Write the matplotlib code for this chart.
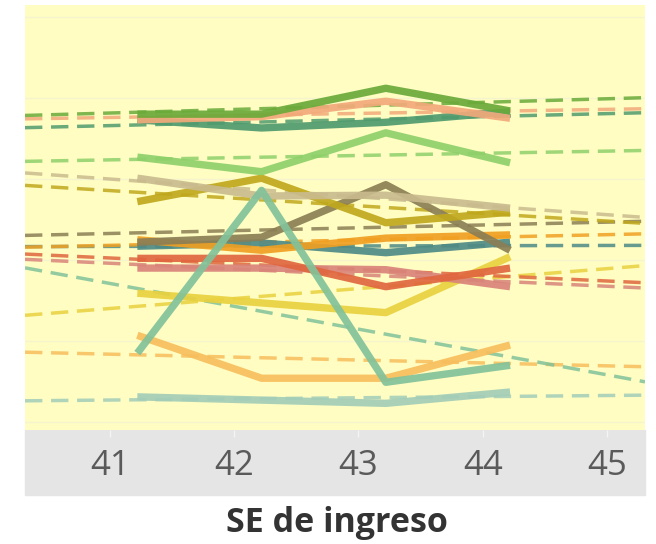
import numpy as np
import matplotlib.pyplot as plt
from matplotlib.patches import Rectangle

# weeks (data points sit a bit to the right of the week tick)
weeks = [41.22, 42.22, 43.22, 44.22]
tick_weeks = [41, 42, 43, 44, 45]
tick_labels = ["41", "42", "43", "44", "45"]

# series values
s_green = [38.0, 38.0, 41.2, 38.4]
s_salmon = [37.3, 37.7, 39.6, 37.5]
s_teal = [37.3, 36.3, 37.0, 38.3]
s_lightgreen = [32.7, 30.9, 35.7, 32.0]
s_tan = [30.1, 27.9, 28.0, 26.4]
s_olive = [27.2, 30.1, 24.6, 25.9]
s_brown = [22.2, 22.8, 29.3, 21.2]
s_orange = [22.5, 21.2, 22.7, 23.1]
s_tealblue = [21.7, 22.1, 20.9, 22.2]
s_red = [20.2, 20.2, 16.7, 19.0]
s_pink = [19.0, 19.0, 18.8, 16.7]
s_yellow = [15.9, 14.7, 13.5, 20.4]
s_lightorange = [10.7, 5.4, 5.4, 9.5]
s_spike = [8.5, 28.6, 4.9, 7.0]
s_paleteal = [3.1, 2.7, 2.3, 3.7]

series = [
    (s_paleteal, '#a3cdb8'),
    (s_lightorange, '#f7be5c'),
    (s_yellow, '#e9d13f'),
    (s_pink, '#d9847a'),
    (s_red, '#e0663f'),
    (s_tealblue, '#4e8a86'),
    (s_orange, '#f0a022'),
    (s_brown, '#8b7e55'),
    (s_olive, '#c0a81c'),
    (s_tan, '#c9bb8e'),
    (s_lightgreen, '#8ed06a'),
    (s_teal, '#4f9a6e'),
    (s_salmon, '#f2a97a'),
    (s_green, '#6aaa3a'),
    (s_spike, '#82c29a'),
]

W, H = 656, 544
fig = plt.figure(figsize=(W / 100, H / 100), dpi=100)
ax = fig.add_axes([25 / W, 114 / H, 620 / W, 425 / H])
ax.set_facecolor('#fffdc2')

# grey band under the plot holding the week labels
fig.add_artist(Rectangle((25 / W, 49 / H), 620 / W, 65 / H,
                         transform=fig.transFigure, color='#e5e5e5', zorder=-1))

xmin, xmax = 40.316, 45.306
xs = np.array([xmin, xmax])

# linear trend lines first
for vals, col in series:
    m, b = np.polyfit(weeks, vals, 1)
    ax.plot(xs, m * xs + b, color=col, lw=2.5, dashes=(5, 2.5), alpha=0.85, zorder=2)

for vals, col in series:
    ax.plot(weeks, vals, color=col, lw=5.3, alpha=0.92,
            solid_joinstyle='round', solid_capstyle='butt', zorder=3)

ax.set_xlim(xmin, xmax)
ax.set_ylim(-0.99, 51.48)
ax.set_yticks([0, 10, 20, 30, 40, 50])
ax.tick_params(axis='y', length=0, labelleft=False)
ax.grid(axis='y', color='#f6f4cf', lw=1)
ax.set_axisbelow(True)

ax.set_xticks(tick_weeks)
ax.set_xticklabels(tick_labels, fontfamily='Open Sans')
ax.tick_params(axis='x', length=5, width=1, color='#f4f4f4', pad=9,
               labelsize=25, labelcolor='#5a5a5a')

ax.set_xlabel('SE de ingreso', fontsize=24.5, fontweight='bold', color='#333333',
              fontfamily='Open Sans', va='center')
ax.xaxis.set_label_coords(0.503, -0.219)

for sp in ax.spines.values():
    sp.set_visible(False)

fig.savefig('out.png', dpi=100)
